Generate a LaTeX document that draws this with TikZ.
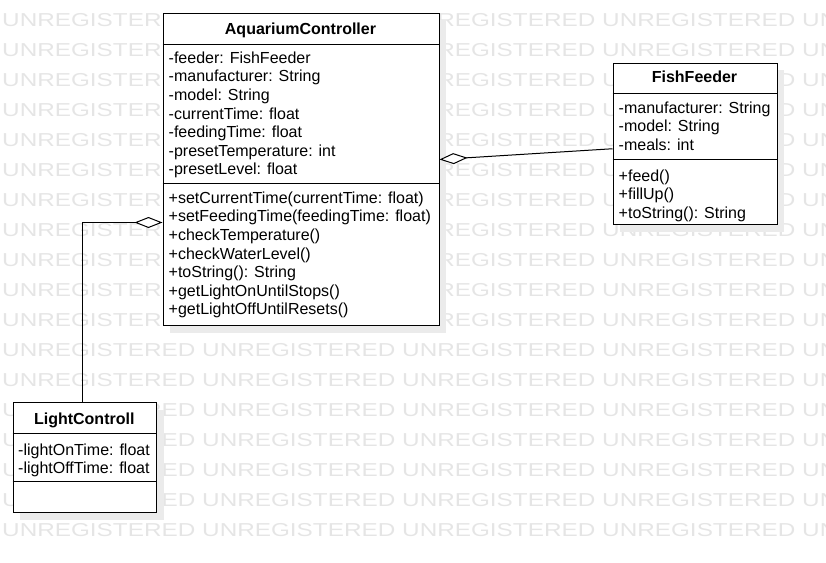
\documentclass[tikz,border=0pt]{standalone}
\usepackage{fontspec}
\usepackage{graphicx}
\setmainfont{Liberation Sans}
\usetikzlibrary{arrows.meta,shadows}
\begin{document}
\begin{tikzpicture}[x=1pt,y=-1pt,
  wm/.style={text=black!10, inner sep=0, anchor=base west, font=\fontsize{18.7}{18.7}\selectfont},
  box/.style={draw, fill=white, line width=1pt, inner sep=0, anchor=north west,
    drop shadow={opacity=1, fill=black!8, shadow xshift=7pt, shadow yshift=-7pt}},
  sepline/.style={line width=1pt},
  txt/.style={inner sep=0, anchor=base west, font=\fontsize{16}{18.6}\selectfont},
  ttl/.style={inner sep=0, anchor=base, font=\fontsize{16}{18.6}\selectfont\bfseries},
  agg/.style={line width=1pt, {Diamond[fill=white, length=28pt, width=11pt]}-}
]
\useasboundingbox (0,0) rectangle (826,562);
\clip (0,0) rectangle (826,562);
% watermark
\foreach \r in {0,...,17}
  \foreach \c in {0,...,4}
    \node[wm, name=wm-\r-\c] at ({2+200*\c},{26.7+30*\r}) {\scalebox{1.3}[1]{UNREGISTERED}};

% AquariumController
\node[box, minimum width=276pt, minimum height=312.5pt] (ac) at (162.5,12.5) {};
\draw[sepline] (ac.west |- 0,44) -- (ac.east |- 0,44);
\draw[sepline] (ac.west |- 0,183) -- (ac.east |- 0,183);
\node[ttl] (act) at (300.5,34) {AquariumController};
\foreach \t [count=\i] in {{-feeder: FishFeeder},{-manufacturer: String},{-model: String},{-currentTime: float},{-feedingTime: float},{-presetTemperature: int},{-presetLevel: float}}
  \node[txt, name=aca\i] at (168.5,{63.3+18.6*(\i-1)}) {\t};
\foreach \t [count=\i] in {{+setCurrentTime(currentTime: float)},{+setFeedingTime(feedingTime: float)},{+checkTemperature()},{+checkWaterLevel()},{+toString(): String},{+getLightOnUntilStops()},{+getLightOffUntilResets()}}
  \node[txt, name=acm\i] at (168.5,{203.3+18.6*(\i-1)}) {\t};

% FishFeeder
\node[box, minimum width=164pt, minimum height=161.5pt] (ff) at (612.5,62.5) {};
\draw[sepline] (ff.west |- 0,93) -- (ff.east |- 0,93);
\draw[sepline] (ff.west |- 0,159) -- (ff.east |- 0,159);
\node[ttl] (fft) at (694.5,82.8) {FishFeeder};
\foreach \t [count=\i] in {{-manufacturer: String},{-model: String},{-meals: int}}
  \node[txt, name=ffa\i] at (618.5,{113.3+18.6*(\i-1)}) {\t};
\foreach \t [count=\i] in {{+feed()},{+fillUp()},{+toString(): String}}
  \node[txt, name=ffm\i] at (618.5,{181+18.6*(\i-1)}) {\t};

% LightControll
\node[box, minimum width=143.5pt, minimum height=110pt] (lc) at (12.5,402) {};
\draw[sepline] (lc.west |- 0,433) -- (lc.east |- 0,433);
\draw[sepline] (lc.west |- 0,481) -- (lc.east |- 0,481);
\node[ttl] (lct) at (84.25,424) {LightControll};
\foreach \t [count=\i] in {{-lightOnTime: float},{-lightOffTime: float}}
  \node[txt, name=lca\i] at (18,{455+18.6*(\i-1)}) {\t};

% connectors
\draw[agg] ([yshift=9.75pt]ac.east) -- ([yshift=-5pt]ff.west);
\draw[agg] ([yshift=-53.25pt]ac.west) -| ([xshift=-2pt]lc.north);
\end{tikzpicture}
\end{document}
